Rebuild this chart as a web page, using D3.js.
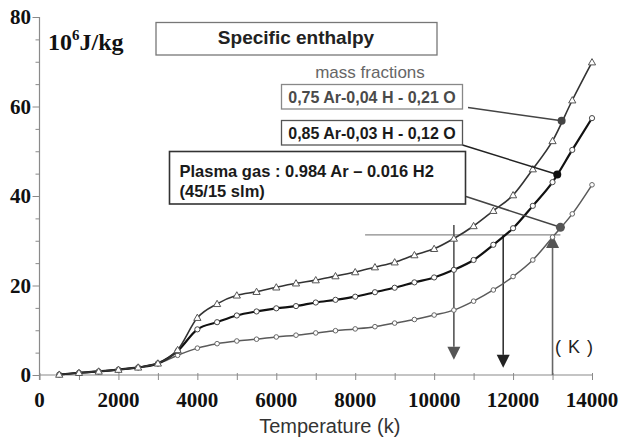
<!DOCTYPE html>
<html>
<head>
<meta charset="utf-8">
<script src="https://cdn.jsdelivr.net/npm/d3@7"></script>
<style>
  html, body { margin: 0; padding: 0; background: #fff; }
  svg { display: block; }
</style>
</head>
<body>
<svg id="chart" width="619" height="442"></svg>
<script>
// Temperature grid (K)
const temperatures = [500, 1000, 1500, 2000, 2500, 3000, 3500, 4000, 4500, 5000,
  5500, 6000, 6500, 7000, 7500, 8000, 8500, 9000, 9500, 10000,
  10500, 11000, 11500, 12000, 12500, 13000, 13500, 14000];

// Specific enthalpy (10^6 J/kg), 0.75 Ar - 0.04 H - 0.21 O
const enthalpyO21 = [0.1, 0.5, 0.8, 1.2, 1.7, 2.6, 5.6, 12.8, 15.9, 17.8,
  18.6, 19.6, 20.5, 21.2, 22.1, 23.0, 24.1, 25.2, 26.8, 28.2,
  30.5, 33.3, 36.7, 40.2, 46.0, 52.3, 61.4, 69.9];

// 0.85 Ar - 0.03 H - 0.12 O
const enthalpyO12 = [0.1, 0.5, 0.8, 1.2, 1.7, 2.6, 5.4, 10.2, 11.8, 13.3,
  14.2, 14.9, 15.4, 16.2, 16.8, 17.5, 18.5, 19.5, 20.7, 21.8,
  23.5, 25.7, 29.1, 32.8, 37.8, 43.1, 50.3, 57.4];

// Plasma gas 0.984 Ar - 0.016 H2
const enthalpyArH2 = [0.1, 0.4, 0.8, 1.2, 1.7, 2.5, 4.4, 6.0, 7.0, 7.6,
  8.0, 8.5, 8.9, 9.4, 9.9, 10.3, 10.8, 11.6, 12.4, 13.4,
  14.5, 16.5, 19.0, 22.0, 25.7, 30.8, 36.0, 42.5];

const xTickLabels = [0, 2000, 4000, 6000, 8000, 10000, 12000, 14000];
const yTickLabels = [0, 20, 40, 60, 80];

const labelO21 = "0,75 Ar-0,04 H - 0,21 O";
const labelO12 = "0,85 Ar-0,03 H - 0,12 O";
const labelArH2 = ["Plasma gas : 0.984 Ar \u2013 0.016 H2", "(45/15 slm)"];

// Points on each curve that the legend boxes point to
const calloutT = [13230, 13120, 13200];
const calloutH = [56.8, 44.8, 33.0];

// Reference enthalpy level and the temperatures
const refEnthalpy = 31.3;
const refLineT = [8250, 13200];
const arrowT = [10500, 11750, 13000];
const arrowFromH = [33.5, 31.3, 0];
const arrowToH = [3.4, 1.6, 31.3];

const svg = d3.select("#chart");

const x = d3.scaleLinear().domain([0, 14000]).range([39.5, 592]);
const y = d3.scaleLinear().domain([0, 80]).range([375, 17]);

// ---- axes ----
const axisColor = "#8a8a8a";
const serif = "'Liberation Serif', 'Times New Roman', serif";
const sans = "'Liberation Sans', Arial, sans-serif";

const yAxis = d3.axisLeft(y)
  .tickValues(d3.range(0, 81, 5))
  .tickSize(0)
  .tickFormat("");
const gy = svg.append("g").attr("transform", `translate(${x(0)},0)`).call(yAxis);
gy.select(".domain").attr("stroke", axisColor).attr("stroke-width", 1.2)
  .attr("d", `M0,${y(80)}V${y(0) + 5}`);
gy.selectAll(".tick line")
  .attr("stroke", axisColor)
  .attr("x1", d => (d % 20 === 0 ? -7 : -4))
  .attr("x2", 0);

const xAxis = d3.axisBottom(x)
  .tickValues(d3.range(0, 14001, 1000))
  .tickSize(0)
  .tickFormat("");
const gx = svg.append("g").attr("transform", `translate(0,${y(0)})`).call(xAxis);
gx.select(".domain").attr("stroke", axisColor).attr("stroke-width", 1.2)
  .attr("d", `M${x(0)},0H${x(14000)}`);
gx.selectAll(".tick line").attr("stroke", axisColor).attr("y1", -2).attr("y2", 5);

// tick labels
svg.append("g").selectAll("text").data(yTickLabels).join("text")
  .attr("x", 31).attr("y", d => y(d) + 7)
  .attr("text-anchor", "end")
  .attr("font-family", serif).attr("font-weight", "bold").attr("font-size", 21)
  .attr("fill", "#111")
  .text(d => d);

svg.append("g").selectAll("text").data(xTickLabels).join("text")
  .attr("x", d => x(d)).attr("y", 407)
  .attr("text-anchor", "middle")
  .attr("font-family", serif).attr("font-weight", "bold").attr("font-size", 21)
  .attr("fill", "#111")
  .text(d => d);

// axis titles
svg.append("text")
  .attr("x", (x(0) + x(14000)) / 2 + 14).attr("y", 433)
  .attr("text-anchor", "middle")
  .attr("font-family", sans).attr("font-size", 20).attr("fill", "#333")
  .text("Temperature (k)");

const unit = svg.append("text")
  .attr("x", 48).attr("y", 50)
  .attr("font-family", serif).attr("font-weight", "bold").attr("font-size", 24)
  .attr("fill", "#111");
unit.append("tspan").text("10");
unit.append("tspan").attr("dy", -10).attr("font-size", 15).text("6");
unit.append("tspan").attr("dy", 10).text("J/kg");

// chart title box
svg.append("rect")
  .attr("x", 156).attr("y", 22.5).attr("width", 281).attr("height", 32.5)
  .attr("fill", "#fff").attr("stroke", "#777").attr("stroke-width", 1.3);
svg.append("text")
  .attr("x", 296).attr("y", 44)
  .attr("text-anchor", "middle")
  .attr("font-family", sans).attr("font-weight", "bold").attr("font-size", 19)
  .attr("fill", "#222")
  .text("Specific enthalpy");

// ---- reference level and arrows ----
svg.append("line")
  .attr("x1", x(refLineT[0])).attr("x2", x(refLineT[1]))
  .attr("y1", y(refEnthalpy)).attr("y2", y(refEnthalpy))
  .attr("stroke", "#8a8a8a").attr("stroke-width", 1.2);

const arrowColors = ["#555", "#222", "#555"];
const arrowLineColors = ["#555", "#333", "#666"];
arrowT.forEach((t, i) => {
  const x0 = x(t), yFrom = y(arrowFromH[i]), yTo = y(arrowToH[i]);
  const dir = yTo > yFrom ? 1 : -1;
  const headLen = 13, headHalf = 6.5;
  svg.append("line")
    .attr("x1", x0).attr("x2", x0)
    .attr("y1", yFrom).attr("y2", yTo - dir * headLen)
    .attr("stroke", arrowLineColors[i]).attr("stroke-width", 1.6);
  svg.append("path")
    .attr("d", `M${x0},${yTo}L${x0 - headHalf},${yTo - dir * headLen}L${x0 + headHalf},${yTo - dir * headLen}Z`)
    .attr("fill", arrowColors[i]);
});

svg.append("text")
  .attr("x", 555).attr("y", 353)
  .attr("font-family", sans).attr("font-size", 18).attr("fill", "#222")
  .attr("letter-spacing", 1)
  .text("( K )");

// ---- curves ----
const seriesList = [
  { values: enthalpyArH2, line: "#5a5a5a", width: 1.5, marker: "circle", mstroke: "#666", size: 2.3 },
  { values: enthalpyO12, line: "#111", width: 2.2, marker: "circle", mstroke: "#444", size: 2.6 },
  { values: enthalpyO21, line: "#333", width: 1.6, marker: "triangle", mstroke: "#555", size: 3.6 }
];

const lineGen = d3.line()
  .x((d, i) => x(temperatures[i]))
  .y(d => y(d))
  .curve(d3.curveMonotoneX);

seriesList.forEach(s => {
  svg.append("path")
    .attr("d", lineGen(s.values))
    .attr("fill", "none")
    .attr("stroke", s.line)
    .attr("stroke-width", s.width);
});

seriesList.forEach(s => {
  const g = svg.append("g");
  if (s.marker === "circle") {
    g.selectAll("circle").data(s.values).join("circle")
      .attr("cx", (d, i) => x(temperatures[i]))
      .attr("cy", d => y(d))
      .attr("r", s.size)
      .attr("fill", "#fff").attr("stroke", s.mstroke).attr("stroke-width", 1);
  } else {
    const r = s.size;
    g.selectAll("path").data(s.values).join("path")
      .attr("d", (d, i) => {
        const cx = x(temperatures[i]), cy = y(d);
        return `M${cx},${cy - r}L${cx + r},${cy + r * 0.75}L${cx - r},${cy + r * 0.75}Z`;
      })
      .attr("fill", "#fff").attr("stroke", s.mstroke).attr("stroke-width", 1);
  }
});

// ---- legend boxes with leader lines ----
svg.append("text")
  .attr("x", 370).attr("y", 78)
  .attr("text-anchor", "middle")
  .attr("font-family", sans).attr("font-size", 17).attr("fill", "#666")
  .text("mass fractions");

const boxes = [
  { x: 281.5, y: 84.5, w: 181, h: 24.5, stroke: "#888", sw: 1.3, text: [labelO21], color: "#4a4a4a", anchorX: 468, anchorY: 107.5, leader: "#444" },
  { x: 281.5, y: 120.5, w: 181, h: 24.5, stroke: "#555", sw: 1.3, text: [labelO12], color: "#1a1a1a", anchorX: 462.5, anchorY: 145, leader: "#222" },
  { x: 169.5, y: 151.5, w: 296, h: 52.5, stroke: "#333", sw: 1.6, text: labelArH2, color: "#1a1a1a", anchorX: 466, anchorY: 196.5, leader: "#444" }
];

boxes.forEach((b, i) => {
  svg.append("line")
    .attr("x1", b.anchorX).attr("y1", b.anchorY)
    .attr("x2", x(calloutT[i])).attr("y2", y(calloutH[i]))
    .attr("stroke", b.leader).attr("stroke-width", 1.5);
  svg.append("rect")
    .attr("x", b.x).attr("y", b.y).attr("width", b.w).attr("height", b.h)
    .attr("fill", "#fff").attr("stroke", b.stroke).attr("stroke-width", b.sw);
  b.text.forEach((t, j) => {
    const tx = i < 2 ? b.x + b.w / 2 : b.x + 10;
    svg.append("text")
      .attr("x", tx).attr("y", i < 2 ? b.y + 18 : b.y + 25 + j * 20)
      .attr("text-anchor", i < 2 ? "middle" : "start")
      .attr("font-family", sans).attr("font-weight", "bold")
      .attr("font-size", i < 2 ? 16 : 16.5)
      .attr("fill", b.color)
      .text(t);
  });
});

// highlighted points on the curves
const calloutColors = ["#444", "#111", "#555"];
const calloutR = [4, 4, 4.5];
svg.append("g").selectAll("circle").data(calloutT).join("circle")
  .attr("cx", d => x(d))
  .attr("cy", (d, i) => y(calloutH[i]))
  .attr("r", (d, i) => calloutR[i])
  .attr("fill", (d, i) => calloutColors[i]);
</script>
</body>
</html>
